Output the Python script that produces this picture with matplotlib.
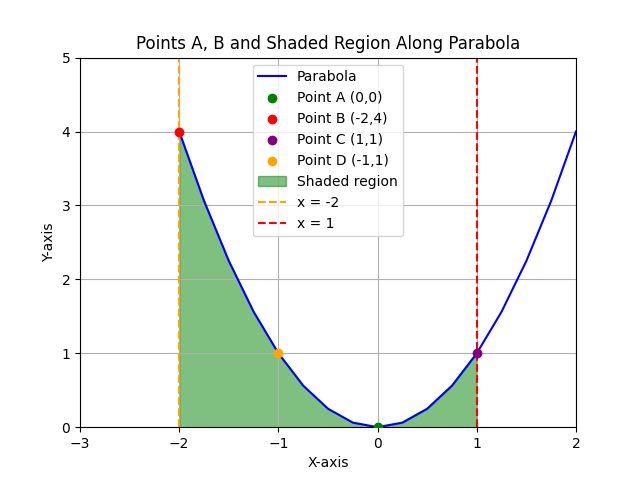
import matplotlib
matplotlib.use("Agg")
import matplotlib.pyplot as plt

# parabola sample points
x_vals = [-2.0, -1.75, -1.5, -1.25, -1.0, -0.75, -0.5, -0.25, 0.0,
          0.25, 0.5, 0.75, 1.0, 1.25, 1.5, 1.75, 2.0]
y_vals = [4.0, 3.0625, 2.25, 1.5625, 1.0, 0.5625, 0.25, 0.0625, 0.0,
          0.0625, 0.25, 0.5625, 1.0, 1.5625, 2.25, 3.0625, 4.0]

# shaded part (x from -2 to 1)
shade_x = x_vals[:13]
shade_y = y_vals[:13]

point_names = ["Point A (0,0)", "Point B (-2,4)", "Point C (1,1)", "Point D (-1,1)"]
point_x = [0, -2, 1, -1]
point_y = [0, 4, 1, 1]
point_colors = ["green", "red", "purple", "orange"]

fig, ax = plt.subplots(figsize=(6.4, 4.8), dpi=100)
ax.plot(x_vals, y_vals, color="blue", label="Parabola")
for name, px, py, c in zip(point_names, point_x, point_y, point_colors):
    ax.scatter(px, py, color=c, label=name, zorder=3)
ax.fill_between(shade_x, shade_y, 0, color="green", alpha=0.5, label="Shaded region")
ax.axvline(-2, color="orange", linestyle="--", label="x = -2")
ax.axvline(1, color="red", linestyle="--", label="x = 1")

ax.set_xlim(-3, 2)
ax.set_ylim(0, 5)
ax.set_xlabel("X-axis")
ax.set_ylabel("Y-axis")
ax.set_title("Points A, B and Shaded Region Along Parabola")
ax.grid(True)
ax.legend(loc="upper center")
plt.savefig("out.png")
